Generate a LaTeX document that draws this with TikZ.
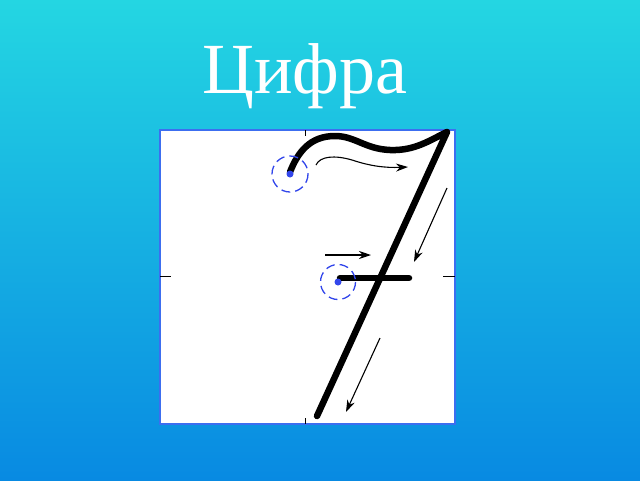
\documentclass[tikz,border=0pt]{standalone}
\usepackage{fontspec}
\setmainfont{Liberation Serif}
\usetikzlibrary{arrows.meta}
\definecolor{bgtop}{RGB}{36,214,226}
\definecolor{bgbot}{RGB}{8,138,226}
\definecolor{frameblue}{RGB}{60,110,240}
\definecolor{dotblue}{RGB}{50,70,235}
\tikzset{
  stroke/.style={line width=6.5pt,line cap=round,line join=round,black},
  guide/.style={line width=1.1pt,black,-{Stealth[length=12pt,width=8pt]}},
  startring/.style={dash pattern=on 9pt off 5pt,line width=1.3pt,draw=dotblue},
  tick/.style={line width=1pt,black}
}
\begin{document}
\begin{tikzpicture}[x=1pt,y=-1pt]
\useasboundingbox (0,0) rectangle (640,480);
\shade[top color=bgtop,bottom color=bgbot] (0,0) rectangle (640,480);
\node[text=white,font=\fontsize{72}{80}\selectfont,anchor=base] (title) at (305,93) {Цифра};
\draw[fill=white,draw=frameblue,line width=2pt] (160,130) rectangle (455,424);
\draw[tick] (305,130) -- (305,136);
\draw[tick] (305,418) -- (305,424);
\draw[tick] (160,276) -- (171,276);
\draw[tick] (443,276) -- (455,276);
% seven
\coordinate (s1) at (290,172);
\coordinate (tr) at (447,132);
\coordinate (bl) at (317,416);
\coordinate (c1) at (340,278);
\coordinate (c2) at (409,278);
\draw[stroke] (s1) .. controls (298,152) and (310,136) .. (335,136)
  .. controls (355,136) and (365,149) .. (390,150)
  .. controls (415,151) and (430,140) .. (tr) -- (bl);
\draw[stroke] (c1) -- (c2);
% start rings
\draw[startring] (290,174) circle (18);
\fill[dotblue] (290,174) circle (3.5);
\draw[startring] (338,282) circle (17.5);
\fill[dotblue] (338,282) circle (3.5);
% guide arrows
\coordinate (a1s) at (316,165);
\coordinate (a1e) at (408,167);
\draw[guide] (a1s) .. controls (320,156) and (335,155) .. (352,160) .. controls (370,166) and (385,168) .. (a1e);
\coordinate (a2s) at (447,188);
\coordinate (a2e) at (414,262);
\draw[guide] (a2s) -- (a2e);
\coordinate (a3s) at (325,255);
\coordinate (a3e) at (371,255);
\draw[guide] (a3s) -- (a3e);
\coordinate (a4s) at (380,338);
\coordinate (a4e) at (346,412);
\draw[guide] (a4s) -- (a4e);
\end{tikzpicture}
\end{document}
